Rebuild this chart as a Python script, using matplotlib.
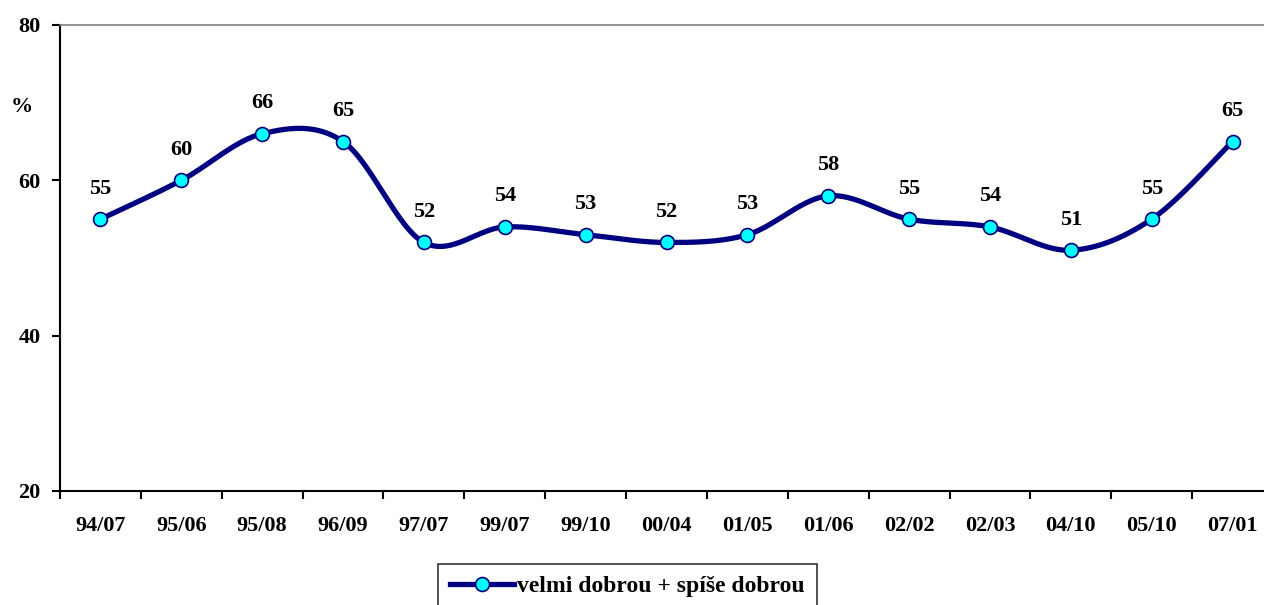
import numpy as np
import matplotlib.pyplot as plt
from matplotlib.lines import Line2D

# survey waves and share of "velmi dobrou + spíše dobrou" (%)
labels = ['94/07', '95/06', '95/08', '96/09', '97/07', '99/07', '99/10', '00/04',
          '01/05', '01/06', '02/02', '02/03', '04/10', '05/10', '07/01']
values = [55, 60, 66, 65, 52, 54, 53, 52, 53, 58, 55, 54, 51, 55, 65]
series_name = 'velmi dobrou + spíše dobrou'

navy = '#000080'
cyan = '#00FFFF'

plt.rcParams['font.family'] = ['Liberation Serif', 'DejaVu Serif']
plt.rcParams['font.weight'] = 'bold'
plt.rcParams['font.size'] = 16


def smooth(x, y, n=30):
    # Excel-like smoothed line: cubic bezier with catmull-rom control points
    x = np.asarray(x, float)
    y = np.asarray(y, float)
    px = np.concatenate([[x[0]], x, [x[-1]]])
    py = np.concatenate([[y[0]], y, [y[-1]]])
    xs, ys = [], []
    t = np.linspace(0, 1, n)
    for i in range(1, len(px) - 2):
        p0 = np.array([px[i], py[i]])
        p3 = np.array([px[i + 1], py[i + 1]])
        p1 = p0 + (np.array([px[i + 1], py[i + 1]]) - np.array([px[i - 1], py[i - 1]])) / 6
        p2 = p3 - (np.array([px[i + 2], py[i + 2]]) - np.array([px[i], py[i]])) / 6
        b = ((1 - t) ** 3)[:, None] * p0 + (3 * (1 - t) ** 2 * t)[:, None] * p1 \
            + (3 * (1 - t) * t ** 2)[:, None] * p2 + (t ** 3)[:, None] * p3
        xs.extend(b[:, 0])
        ys.extend(b[:, 1])
    return np.array(xs), np.array(ys)


fig = plt.figure(figsize=(12.64, 6.05), dpi=100)
W, H = 1264, 605
x0, x1, ytop, ybot = 60, 1273, 25, 491
ax = fig.add_axes([x0 / W, 1 - ybot / H, (x1 - x0) / W, (ybot - ytop) / H])

x = np.arange(len(values))
sx, sy = smooth(x, values)
ax.plot(sx, sy, color=navy, lw=3.8, solid_capstyle='round', zorder=2)
ax.plot(x, values, ls='none', marker='o', ms=10, mfc=cyan, mec=navy, mew=1.2, zorder=3)

for xi, v in zip(x, values):
    ax.annotate(str(v), (xi, v), xytext=(0, 22), textcoords='offset points',
                ha='center', va='center', fontsize=16, fontweight='bold')

ax.set_xlim(-0.5, len(values) - 0.5)
ax.set_ylim(20, 80)
ax.set_yticks([20, 40, 60, 80])
ax.set_xticks(x)
ax.set_xticklabels(labels)
ax.set_xticks(np.arange(len(values) + 1) - 0.5, minor=True)
ax.tick_params(axis='x', which='major', length=0, pad=18)
ax.tick_params(axis='x', which='minor', length=6, width=1.5, direction='out')
ax.tick_params(axis='y', length=6, width=1.5, direction='out', pad=8)

ax.spines['right'].set_visible(False)
ax.spines['top'].set_color('#808080')
ax.spines['top'].set_linewidth(1.2)
ax.spines['left'].set_linewidth(1.5)
ax.spines['bottom'].set_linewidth(1.5)

fig.text(22 / W, 1 - 107 / H, '%', ha='center', va='center', fontsize=16, fontweight='bold')

handle = Line2D([], [], color=navy, lw=3.8, marker='o', ms=10, mfc=cyan, mec=navy, mew=1.2)
leg = fig.legend([handle], [series_name], loc='upper left',
                 bbox_to_anchor=(438 / W, 1 - 564 / H), frameon=True, fancybox=False,
                 borderpad=0.5, borderaxespad=0, handlelength=2.7, handletextpad=0.15,
                 prop={'weight': 'bold', 'size': 17})
leg.get_frame().set_edgecolor('black')
leg.get_frame().set_linewidth(1.2)

fig.savefig('out.png', dpi=100)
